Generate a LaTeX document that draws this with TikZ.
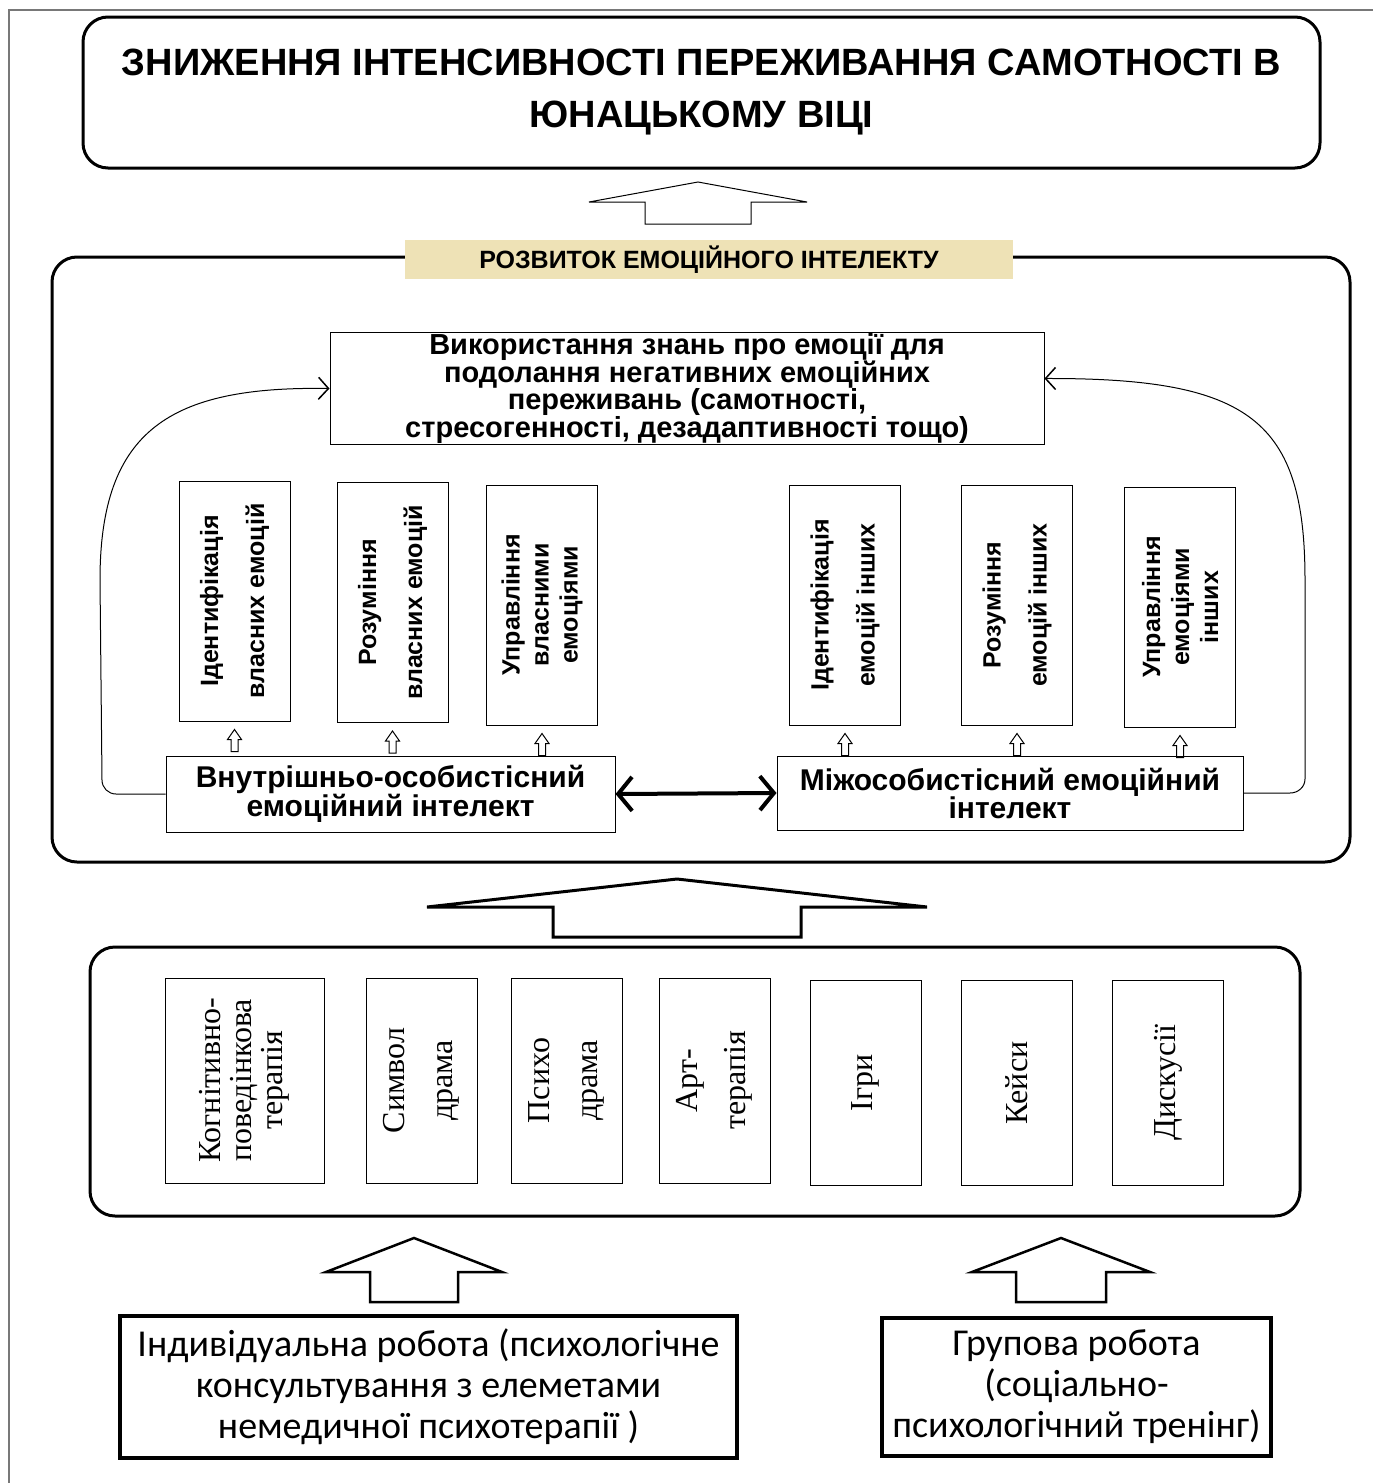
\documentclass[tikz,border=0pt]{standalone}
\usepackage{fontspec}
\setmainfont{Liberation Serif}
\newfontfamily\arialfont{Liberation Sans}
\newfontfamily\calibrifont{Carlito}
\usepackage{tikz}
\usetikzlibrary{arrows.meta, calc}
\definecolor{labelTan}{RGB}{238,226,182}
\definecolor{pageGray}{RGB}{120,120,120}

% hollow block arrow: style, tip, head half width, head height, shaft half width, shaft length
\newcommand{\hollowup}[6]{%
	\draw[#1] #2 -- ++(#3,#4) -- ++(-#3+#5,0) -- ++(0,#6) -- ++(-2*#5,0) -- ++(0,-#6) -- ++(-#3+#5,0) -- cycle;}

\tikzset{
	titlebox/.style={draw, line width=3pt, rounded corners=25pt, minimum width=1237pt, minimum height=151pt, align=center, font=\arialfont\bfseries\fontsize{38}{52}\selectfont},
	panel/.style={draw, line width=3pt, rounded corners=25pt},
	headlabel/.style={fill=labelTan, minimum width=608pt, minimum height=39pt, inner sep=0pt, font=\arialfont\bfseries\fontsize{25}{26}\selectfont},
	usebox/.style={draw, line width=1pt, minimum width=714pt, minimum height=109pt, align=center, inner sep=1pt, font=\arialfont\bfseries\fontsize{29}{27}\selectfont},
	vbox/.style={draw, line width=1pt, rotate=90, minimum width=240pt, minimum height=111pt, align=center, inner sep=1pt, font=\arialfont\bfseries\fontsize{25}{46}\selectfont},
	vboxthree/.style={vbox, font=\arialfont\bfseries\fontsize{25}{29}\selectfont},
	eibox/.style={draw, line width=1pt, minimum height=76pt, align=center, inner sep=1pt, font=\arialfont\bfseries\fontsize{30}{28}\selectfont},
	methodbox/.style={draw, line width=1pt, rotate=90, minimum width=205pt, minimum height=111pt, align=center, inner sep=1pt, font=\rmfamily\fontsize{32}{48}\selectfont},
	workbox/.style={draw, line width=4pt, align=center, font=\calibrifont\fontsize{38}{41}\selectfont},
	barb/.tip={Straight Barb[length=10pt, width=22pt, line width=1.5pt]},
	bigbarb/.tip={Straight Barb[length=14pt, width=34pt, line width=4pt]}
}

\begin{document}
\begin{tikzpicture}[x=1pt, y=-1pt]
	\useasboundingbox (0,0) rectangle (1373,1483);
	\draw[pageGray, line width=1.5pt] (1373,10) -- (9,10) -- (9,1483);

	% top result
	\node[titlebox] (result) at (701.5,92.5) {ЗНИЖЕННЯ ІНТЕНСИВНОСТІ ПЕРЕЖИВАННЯ САМОТНОСТІ В\\ЮНАЦЬКОМУ ВІЦІ};
	\hollowup{line width=1pt}{(698,182)}{109}{20}{53}{22}

	% emotional intelligence panel
	\node[panel, minimum width=1298pt, minimum height=605pt] (eiPanel) at (701,559.5) {};
	\node[headlabel] (eiLabel) at (709,259.5) {РОЗВИТОК ЕМОЦІЙНОГО ІНТЕЛЕКТУ};
	\node[usebox] (use) at (687,388.5) {Використання знань про емоції для\\подолання негативних емоційних\\переживань (самотності,\\стресогенності, дезадаптивності тощо)};

	\node[vbox] (own1) at (234.5,601) {Ідентифікація\\власних емоцій};
	\node[vbox] (own2) at (392.5,602.5) {Розуміння\\власних емоцій};
	\node[vboxthree] (own3) at (542,605) {Управління\\власними\\емоціями};
	\node[vbox] (oth1) at (845,605) {Ідентифікація\\емоцій інших};
	\node[vbox] (oth2) at (1017,605) {Розуміння\\емоцій інших};
	\node[vboxthree] (oth3) at (1180,607) {Управління\\емоціями\\інших};

	\node[eibox, minimum width=449pt] (intra) at (390.5,794) {Внутрішньо-особистісний\\емоційний інтелект};
	\node[eibox, minimum width=466pt, minimum height=74pt] (inter) at (1010,793) {Міжособистісний емоційний\\інтелект};

	\foreach \v in {own1, own2, own3, oth1, oth2, oth3}
		\hollowup{line width=1pt}{([yshift=-8pt]\v.west)}{7}{10}{3.5}{12};

	\draw[line width=4pt, bigbarb-bigbarb] (intra.east) -- (inter.west);
	\draw[line width=1pt, -barb] (intra.west) -- (116,794) to[out=180, in=270] (102,780) -- (100,580) .. controls (100,430) and (170,386) .. (use.west);
	\draw[line width=1pt, -barb] (inter.east) -- (1290,793) to[out=0, in=270] (1305,779) -- (1305,580) .. controls (1305,420) and (1250,378) .. ([yshift=10pt]use.east);

	% methods
	\hollowup{line width=3pt}{(677,879)}{250}{28}{124}{30}
	\node[panel, minimum width=1210pt, minimum height=269pt] (methods) at (695,1081.5) {};
	\node[methodbox, minimum height=159pt, font=\rmfamily\fontsize{32}{31}\selectfont] (m1) at (244.5,1080.5) {Когнітивно-\\поведінкова\\терапія};
	\node[methodbox] (m2) at (421.5,1080.5) {Символ\\драма};
	\node[methodbox] (m3) at (566.5,1080.5) {Психо\\драма};
	\node[methodbox] (m4) at (714.5,1080.5) {Арт-\\терапія};
	\node[methodbox] (m5) at (865.5,1083) {Ігри};
	\node[methodbox] (m6) at (1016.5,1083) {Кейси};
	\node[methodbox] (m7) at (1168,1082.5) {Дискусії};

	% forms of work
	\hollowup{line width=2.5pt}{(414,1238)}{88}{34}{44}{30}
	\hollowup{line width=2.5pt}{(1061,1238)}{89}{34}{45}{30}
	\node[workbox, minimum width=617pt, minimum height=142pt] (indiv) at (428.5,1387) {Індивідуальна робота (психологічне\\консультування з елеметами\\немедичної психотерапії )};
	\node[workbox, minimum width=389pt, minimum height=138pt] (group) at (1076.5,1387) {Групова робота\\(соціально-\\психологічний тренінг)};
\end{tikzpicture}
\end{document}
